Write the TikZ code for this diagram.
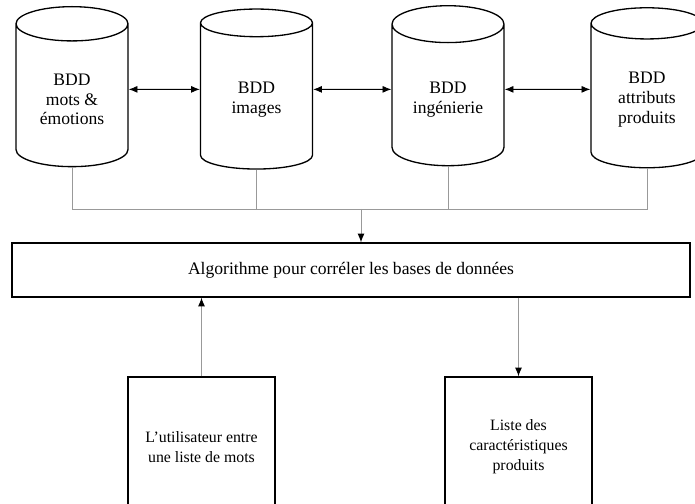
\documentclass[tikz,border=0pt]{standalone}
\usepackage{fontspec}
\setmainfont{Liberation Serif}
\usepackage{tikz}
\usetikzlibrary{positioning,shapes,arrows.meta}

\begin{document}
\begin{tikzpicture}[auto, semithick,
        font=\fontsize{10}{11.3}\selectfont,
        bdd/.style = {draw, line width=0.75pt, cylinder, shape border rotate=90, aspect=0.45,
            minimum width=2.24cm, minimum height=3.2cm, align=center, anchor=north},
        algo/.style = {draw, line width=0.75pt, rectangle, minimum width=13.56cm, minimum height=1.08cm},
        boite/.style = {draw, line width=0.75pt, rectangle, minimum width=2.94cm, minimum height=2.8cm,
            align=center, font=\fontsize{9}{11.3}\selectfont},
        lien/.style = {draw=gray!80, line width=0.55pt},
        fleche/.style = {lien, -{Latex[black, length=5pt, width=4pt]}},
        double/.style = {line width=0.5pt, {Latex[length=5pt, width=4pt]}-{Latex[length=5pt, width=4pt]}}]
    \useasboundingbox (0,0) rectangle (13.9,-10.08);
            \node[bdd] (1) at (1.44,-0.12) {BDD\\mots \&\\émotions};
            \node[bdd] (2) [right of=1, node distance=3.69cm] {BDD\\images};
            \node[bdd] (3) [right of=2, node distance=3.83cm] {BDD\\ingénierie};
            \node[bdd] (4) [right of=3, node distance=3.98cm] {BDD\\attributs\\produits};
            \node[algo] (algo) at (7.02,-5.4) {Algorithme pour corréler les bases de données};
            \node[boite] (5) at (4.03,-8.94) {L’utilisateur entre\\une liste de mots};
            \node[boite] (6) [right of=5, node distance=6.34cm] {Liste des\\caractéristiques\\produits};
            \coordinate (bus) at (7.22,-4.18);
            % liens entre les bases
            \draw[double] ([yshift=0.2cm]1.east) -- ([yshift=0.2cm]2.west);
            \draw[double] ([yshift=0.2cm]2.east) -- ([yshift=0.2cm]3.west);
            \draw[double] ([yshift=0.2cm]3.east) -- ([yshift=0.2cm]4.west);
            % collecteur vers l'algorithme
            \draw[lien] (1.south) |- (bus);
            \draw[lien] (2.south) |- (bus);
            \draw[lien] (3.south) |- (bus);
            \draw[lien] (4.south) |- (bus);
            \draw[fleche] (bus) -- (algo.north -| bus);
            \draw[fleche] (5.north) -- (algo.south -| 5.north);
            \draw[fleche] (algo.south -| 6.north) -- (6.north);
        \end{tikzpicture}
\end{document}
